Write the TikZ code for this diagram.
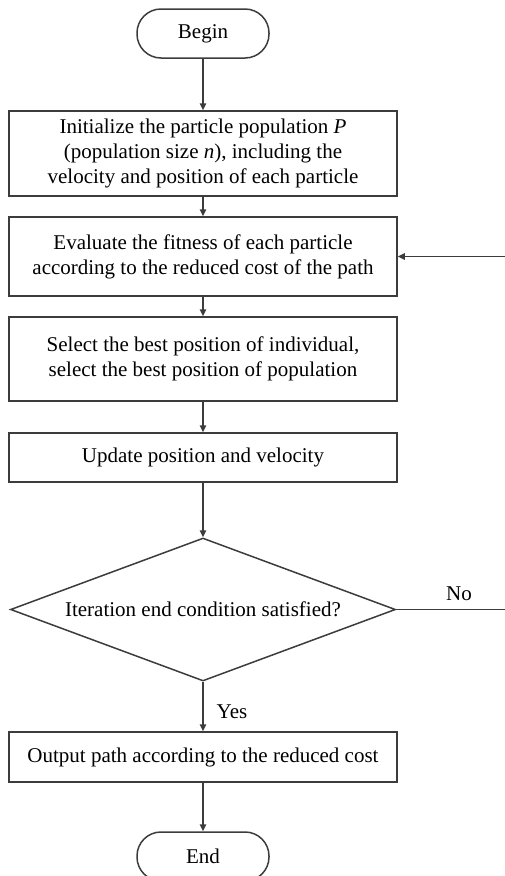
\documentclass[tikz,border=0pt]{standalone}
\usepackage{fontspec}
\setmainfont{Liberation Serif}
\usetikzlibrary{shapes.geometric,arrows.meta}
\definecolor{ln}{HTML}{3C3C3C}
\begin{document}
\begin{tikzpicture}[x=1pt,y=-1pt,
  font=\fontsize{21}{25}\selectfont,
  every node/.style={text=black},
  procbox/.style={draw=ln,line width=1.5pt,rectangle,minimum width=388pt,align=center,inner sep=0pt},
  termbox/.style={draw=ln,line width=1.5pt,rectangle,rounded corners=24pt,minimum width=132pt,minimum height=49pt,inner sep=0pt},
  decbox/.style={draw=ln,line width=1.5pt,diamond,aspect=2.69,minimum width=385pt,minimum height=143pt,inner sep=0pt},
  conn/.style={draw=ln,line width=1.5pt,-{Triangle[length=7pt,width=6.5pt]}},
  plain/.style={draw=ln,line width=1.5pt}]
\useasboundingbox (0,0) rectangle (505,876);
\node[termbox] (begin) at (203,33.5) {Begin};
\node[procbox,minimum height=85pt] (init) at (203,153.5) {Initialize the particle population \textit{P}\\(population size \textit{n}), including the\\velocity and position of each particle};
\node[procbox,minimum height=79pt] (eval) at (203,256.5) {Evaluate the fitness of each particle\\according to the reduced cost of the path};
\node[procbox,minimum height=84pt] (sel) at (203,359) {Select the best position of individual,\\select the best position of population};
\node[procbox,minimum height=49pt] (upd) at (203,457.5) {Update position and velocity};
\node[decbox] (dec) at (203,609.5) {Iteration end condition satisfied?};
\node[procbox,minimum height=50pt] (out) at (203,757) {Output path according to the reduced cost};
\node[termbox] (end) at (203,856.5) {End};
\coordinate (fbR) at (505,256.5);
\coordinate (noR) at (505,609.5);
\draw[conn] (begin) -- (init);
\draw[conn] (init) -- (eval);
\draw[conn] (eval) -- (sel);
\draw[conn] (sel) -- (upd);
\draw[conn] (upd) -- (dec);
\draw[conn] (dec) -- (out);
\draw[conn] (out) -- (end);
\draw[conn] (fbR) -- (eval);
\draw[plain] (dec.east) -- (noR);
\node (no) at (459,594) {No};
\node (yes) at (232,712) {Yes};
\end{tikzpicture}
\end{document}
